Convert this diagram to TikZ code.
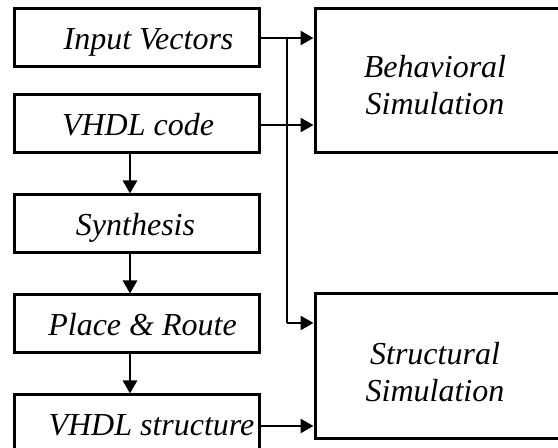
\documentclass[tikz,border=0pt]{standalone}
\usepackage{fontspec}
\setmainfont{Liberation Serif}
\usetikzlibrary{arrows.meta}
\begin{document}
\begin{tikzpicture}[x=0.5pt,y=-0.5pt,
  box/.style={draw,line width=1.5pt,inner sep=0pt,minimum width=122.5pt,minimum height=29pt},
  bigbox/.style={draw,line width=1.5pt,inner sep=0pt,minimum width=130pt,minimum height=72pt},
  lbl/.style={font=\fontsize{16}{18.5}\selectfont\itshape,inner sep=0pt,anchor=base,align=center},
  flow/.style={line width=1.3pt,-{Triangle[length=6.5pt,width=7pt]}},
  wire/.style={line width=1.3pt}]
\useasboundingbox (0,0) rectangle (558,448);
\clip (0,0) rectangle (558,448);

% left column: design flow
\node[box] (inp) at (136.5,38) {};
\node[box] (vcode) at (136.5,124) {};
\node[box] (syn) at (136.5,224) {};
\node[box] (pr) at (136.5,324) {};
\node[box,minimum height=30pt] (vs) at (136.5,425) {};

\node[lbl] (tinp) at (148.5,50) {Input Vectors};
\node[lbl] (tvcode) at (138,136) {VHDL code};
\node[lbl] (tsyn) at (135.5,236) {Synthesis};
\node[lbl] (tpr) at (142.5,336) {Place \& Route};
\node[lbl] (tvs) at (151.5,436) {VHDL structure};

% right column: simulations
\node[bigbox] (beh) at (445,81) {};
\node[bigbox,minimum height=72.5pt] (str) at (445,366.5) {};
\node[lbl] (tbeh) at (435,115) {Behavioral\\Simulation};
\node[lbl] (tstr) at (435,402) {Structural\\Simulation};

% connectors
\coordinate (jt) at (287,38);
\coordinate (jb) at (287,323);
\draw[flow] (inp.east) -- (inp.east -| beh.west);
\draw[flow] (vcode.east |- 0,125) -- (beh.west |- 0,125);
\draw[wire] (jt) -- (jb);
\draw[flow] (jb) -- (jb -| str.west);
\draw[flow] (vs.east |- 0,426) -- (str.west |- 0,426);

\draw[flow] ([xshift=-3.25pt]vcode.south) -- ([xshift=-3.25pt]syn.north);
\draw[flow] ([xshift=-3.25pt]syn.south) -- ([xshift=-3.25pt]pr.north);
\draw[flow] ([xshift=-3.25pt]pr.south) -- ([xshift=-3.25pt]vs.north);
\end{tikzpicture}
\end{document}
